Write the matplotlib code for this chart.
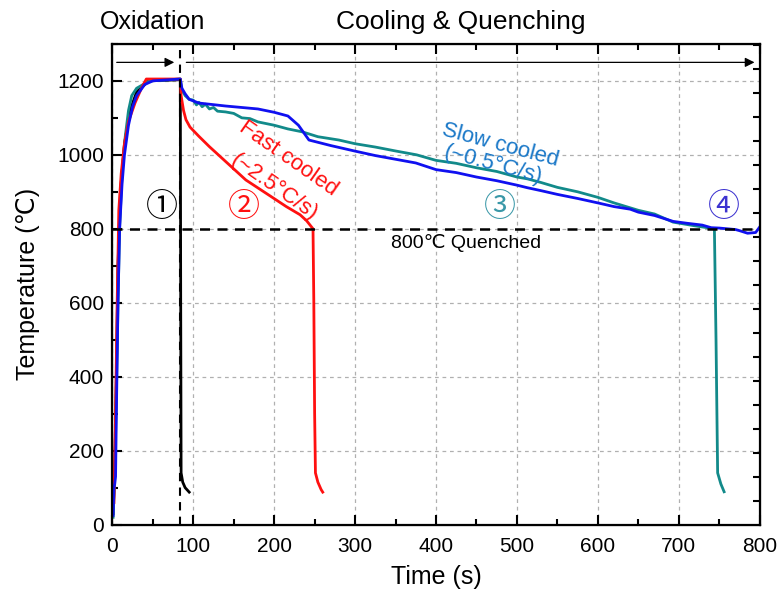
import matplotlib
matplotlib.use('Agg')
import matplotlib.pyplot as plt
import numpy as np

plt.rcParams['font.family'] = ['Liberation Sans', 'DejaVu Sans']

# sample 1: oxidised only, quenched from 1200
t1 = [1, 3, 5, 7, 10, 15, 22, 30, 45, 84, 84.5, 85, 87, 90, 95]
T1 = [30, 150, 400, 700, 900, 1030, 1120, 1170, 1200, 1203, 600, 140, 115, 100, 88]

# sample 2: fast cooled
t2 = [2, 4, 6, 8, 11, 15, 20, 28, 36, 42, 84, 85, 88, 91, 96, 107, 120, 141, 165,
      197, 215, 232, 240, 248, 249, 250, 251, 254, 258, 260]
T2 = [60, 300, 600, 850, 950, 1030, 1090, 1140, 1180, 1205, 1205, 1160, 1120, 1095,
      1075, 1050, 1022, 980, 932, 886, 860, 838, 822, 800, 600, 300, 140, 115, 95, 88]

# sample 3: slow cooled
t3 = [1, 3, 5, 7, 9, 12, 16, 20, 24, 30, 46, 84, 86, 90, 95, 100, 104, 107, 111, 115,
      120, 125, 130, 140, 150, 160, 170, 180, 200, 217, 235, 254, 280, 300, 325, 351,
      376, 400, 425, 450, 475, 500, 513, 530, 550, 575, 600, 620, 650, 670, 693, 720,
      744, 746, 748, 752, 756]
T3 = [20, 130, 350, 600, 800, 950, 1050, 1120, 1160, 1180, 1200, 1205, 1175, 1160,
      1150, 1148, 1135, 1142, 1130, 1137, 1124, 1128, 1118, 1116, 1112, 1100, 1098,
      1089, 1080, 1070, 1062, 1049, 1040, 1030, 1021, 1010, 1000, 985, 977, 965, 955,
      940, 935, 925, 912, 900, 885, 870, 850, 840, 818, 808, 800, 500, 140, 110, 89]

# sample 4: slow cooled to 800 (held)
t4 = [1, 2, 3, 4, 5, 7, 9, 12, 15, 20, 25, 30, 40, 50, 84, 86, 90, 95, 107, 140, 180,
      200, 217, 230, 243, 270, 300, 325, 350, 375, 400, 425, 450, 475, 500, 513, 530,
      550, 575, 600, 620, 640, 650, 670, 693, 710, 729, 740, 750, 760, 770, 775, 785,
      795, 800]
T4 = [25, 100, 110, 130, 300, 600, 800, 920, 1000, 1080, 1130, 1160, 1190, 1200, 1205,
      1180, 1165, 1150, 1140, 1132, 1124, 1115, 1105, 1080, 1040, 1025, 1010, 998, 988,
      978, 960, 952, 940, 930, 918, 911, 903, 893, 882, 870, 860, 853, 845, 836, 820,
      815, 810, 803, 802, 800, 798, 795, 788, 790, 805]

fig = plt.figure(figsize=(7.8, 6.01), dpi=100)
ax = fig.add_axes([0.144, 0.127, 0.83, 0.8])

ax.plot(t1, T1, color='black', lw=2)
ax.plot(t3, T3, color='#128a8a', lw=2)
ax.plot(t2, T2, color='#ff1010', lw=2)
ax.plot(t4, T4, color='#1010f0', lw=2)

ax.axhline(800, color='black', ls=(0, (4, 3)), lw=1.8)
ax.axvline(84, color='black', ls=(0, (4, 3)), lw=1.5)

ax.set_xlim(0, 800)
ax.set_ylim(0, 1300)
ax.set_xticks(np.arange(0, 801, 100))
ax.set_xticks(np.arange(0, 801, 50), minor=True)
ax.set_yticks(np.arange(0, 1201, 200))
ax.set_yticks(np.arange(0, 1301, 100), minor=True)
ax.grid(True, which='major', color='#b0b0b0', ls=(0, (3, 3)), lw=0.9)
ax.tick_params(which='both', direction='in', top=True, right=False, width=1.5,
               labelsize=15)
ax.tick_params(axis='x', which='major', pad=9)
ax.tick_params(axis='y', which='major', pad=6)
ax.tick_params(which='major', length=7)
ax.tick_params(which='minor', length=4)
for s in ax.spines.values():
    s.set_linewidth(1.6)

rax = ax.twinx()
rax.set_ylim(0, 1300)
rax.set_yticks(np.arange(63, 1300, 65))
rax.tick_params(direction='in', length=5, width=1.5, labelright=False)

ax.set_xlabel('Time (s)', fontsize=18, labelpad=6)
ax.set_ylabel('Temperature (℃)', fontsize=18, labelpad=12)

# stage arrows
ax.annotate('', xy=(80, 1250), xytext=(2, 1250),
            arrowprops=dict(arrowstyle='-|>', color='black', lw=0.9, mutation_scale=14))
ax.annotate('', xy=(797, 1250), xytext=(88, 1250),
            arrowprops=dict(arrowstyle='-|>', color='black', lw=0.9, mutation_scale=14))

ax.text(50, 1358, 'Oxidation', fontsize=18, ha='center', va='center', clip_on=False)
ax.text(430, 1358, 'Cooling & Quenching', fontsize=19, ha='center', va='center',
        clip_on=False)

circ = ['Noto Sans CJK JP', 'DejaVu Sans']
ax.text(61, 860, '①', fontsize=23, ha='center', va='center', color='black',
        family=circ)
ax.text(162, 860, '②', fontsize=23, ha='center', va='center', color='#ff1010',
        family=circ)
ax.text(479, 860, '③', fontsize=23, ha='center', va='center', color='#3a98a8',
        family=circ)
ax.text(756, 860, '④', fontsize=23, ha='center', va='center', color='#3c32d0',
        family=circ)

ax.text(437, 762, '800℃ Quenched', fontsize=14, ha='center', va='center')

ax.text(217, 990, 'Fast cooled', fontsize=16, color='#ff1010', rotation=-35,
        ha='center', va='center', rotation_mode='anchor')
ax.text(200, 912, '(~2.5°C/s)', fontsize=16, color='#ff1010', rotation=-35,
        ha='center', va='center', rotation_mode='anchor')
ax.text(480, 1027, 'Slow cooled', fontsize=16, color='#1a78c8', rotation=-15,
        ha='center', va='center', rotation_mode='anchor')
ax.text(471, 972, '(~0.5°C/s)', fontsize=16, color='#1a78c8', rotation=-15,
        ha='center', va='center', rotation_mode='anchor')

plt.savefig('out.png', dpi=100)
